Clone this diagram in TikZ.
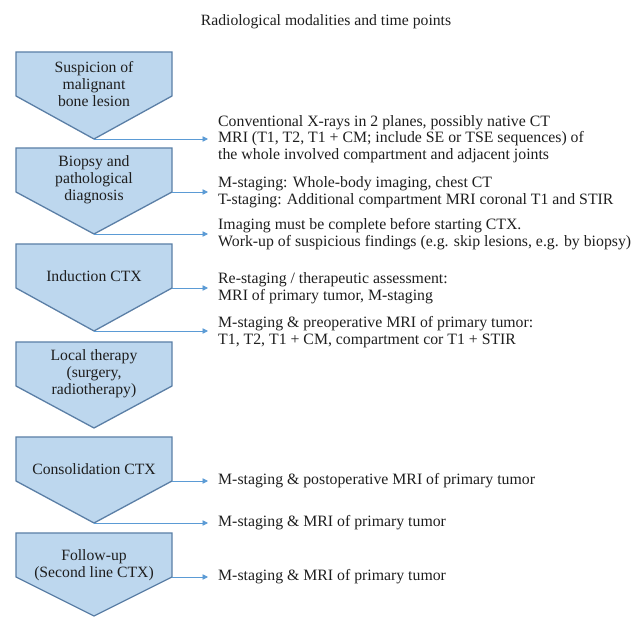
\documentclass[tikz,border=0pt]{standalone}
\usepackage{fontspec}
\setmainfont{Liberation Serif}
\usetikzlibrary{arrows.meta}
\definecolor{boxfill}{HTML}{BDD7EE}
\definecolor{boxline}{HTML}{5B7FA6}
\definecolor{arrowc}{HTML}{5B9BD5}
\definecolor{txt}{HTML}{1E1E1E}
\tikzset{
  pentshape/.style={fill=boxfill, draw=boxline, line width=1.3pt, line join=miter},
  penttext/.style={align=center, font=\fontsize{15.7}{16.8}\selectfont, text=txt, inner sep=0pt},
  infotext/.style={anchor=west, align=left, font=\fontsize{15.8}{16.6}\selectfont, text=txt, inner sep=0pt},
  flow/.style={draw=arrowc, line width=0.9pt, -{Triangle[length=5.5pt,width=5.5pt]}},
}
\newcommand{\pentbox}[4]{%
  \draw[pentshape] (16,#2) -- (172,#2) -- (172,#2+44) -- (94,#2+#3) -- (16,#2+44) -- cycle;
  \node[penttext] (#1) at (94,#2+32) {#4};
  \coordinate (#1-tip) at (94,#2+#3);
  \coordinate (#1-side) at (172,#2+44);
}
\begin{document}
\begin{tikzpicture}[x=1pt,y=-1pt]
\useasboundingbox (0,0) rectangle (633,617);
\node[penttext] (title) at (326,22) {Radiological modalities and time points};

\pentbox{p1}{52}{87}{Suspicion of\\malignant\\bone lesion}
\pentbox{p2}{148}{86}{Biopsy and\\pathological\\diagnosis}
\pentbox{p3}{244}{87}{Induction CTX}
\pentbox{p4}{342}{86}{Local therapy\\(surgery,\\radiotherapy)}
\pentbox{p5}{437}{86}{Consolidation CTX}
\pentbox{p6}{533}{83}{Follow-up\\(Second line CTX)}

\coordinate (ex) at (208,0);

\node[infotext] (t1) at (218,139) {Conventional X-rays in 2 planes, possibly native CT\\MRI (T1, T2, T1 + CM; include SE or TSE sequences) of\\the whole involved compartment and adjacent joints};
\node[infotext] (t2) at (218,192) {M-staging: Whole-body imaging, chest CT\\T-staging: Additional compartment MRI coronal T1 and STIR};
\node[infotext] (t3) at (218,234) {Imaging must be complete before starting CTX.\\Work-up of suspicious findings (e.g. skip lesions, e.g. by biopsy)};
\node[infotext] (t4) at (218,288) {Re-staging / therapeutic assessment:\\MRI of primary tumor, M-staging};
\node[infotext] (t5) at (218,332) {M-staging \& preoperative MRI of primary tumor:\\T1, T2, T1 + CM, compartment cor T1 + STIR};
\node[infotext] (t6) at (218,481) {M-staging \& postoperative MRI of primary tumor};
\node[infotext] (t7) at (218,523) {M-staging \& MRI of primary tumor};
\node[infotext] (t8) at (218,577) {M-staging \& MRI of primary tumor};

\draw[flow] (p1-tip) -- (p1-tip -| ex);
\draw[flow] (p2-side) -- (p2-side -| ex);
\draw[flow] (p2-tip) -- (p2-tip -| ex);
\draw[flow] (p3-side) -- (p3-side -| ex);
\draw[flow] (p3-tip) -- (p3-tip -| ex);
\draw[flow] (p5-side) -- (p5-side -| ex);
\draw[flow] (p5-tip) -- (p5-tip -| ex);
\draw[flow] (p6-side) -- (p6-side -| ex);
\end{tikzpicture}
\end{document}
